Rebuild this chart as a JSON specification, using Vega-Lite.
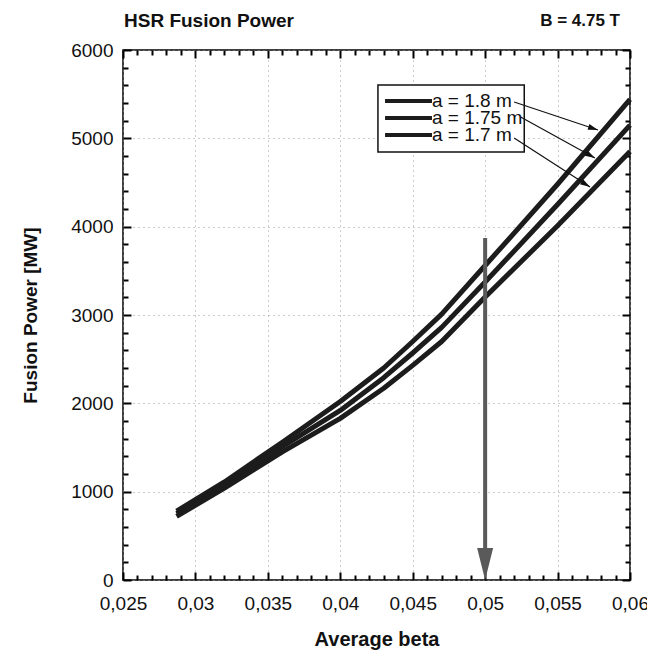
{
  "$schema": "https://vega.github.io/schema/vega-lite/v6.json",
  "width": 507,
  "height": 530,
  "autosize": {"type": "none"},
  "padding": {"left": 123, "top": 50, "right": 17, "bottom": 73},
  "background": "white",
  "config": {"font": "Liberation Sans", "view": {"stroke": "black", "strokeWidth": 1.5}},
  "datasets": {
    "curves": [
      {"beta": 0.0287, "power": 780, "a": "a = 1.8 m"},
      {"beta": 0.032, "power": 1110, "a": "a = 1.8 m"},
      {"beta": 0.036, "power": 1560, "a": "a = 1.8 m"},
      {"beta": 0.04, "power": 2020, "a": "a = 1.8 m"},
      {"beta": 0.043, "power": 2400, "a": "a = 1.8 m"},
      {"beta": 0.045, "power": 2700, "a": "a = 1.8 m"},
      {"beta": 0.047, "power": 3010, "a": "a = 1.8 m"},
      {"beta": 0.05, "power": 3560, "a": "a = 1.8 m"},
      {"beta": 0.055, "power": 4480, "a": "a = 1.8 m"},
      {"beta": 0.06, "power": 5440, "a": "a = 1.8 m"},
      {"beta": 0.0287, "power": 750, "a": "a = 1.75 m"},
      {"beta": 0.032, "power": 1070, "a": "a = 1.75 m"},
      {"beta": 0.036, "power": 1510, "a": "a = 1.75 m"},
      {"beta": 0.04, "power": 1920, "a": "a = 1.75 m"},
      {"beta": 0.043, "power": 2290, "a": "a = 1.75 m"},
      {"beta": 0.045, "power": 2570, "a": "a = 1.75 m"},
      {"beta": 0.047, "power": 2860, "a": "a = 1.75 m"},
      {"beta": 0.05, "power": 3374, "a": "a = 1.75 m"},
      {"beta": 0.055, "power": 4250, "a": "a = 1.75 m"},
      {"beta": 0.06, "power": 5150, "a": "a = 1.75 m"},
      {"beta": 0.0287, "power": 720, "a": "a = 1.7 m"},
      {"beta": 0.032, "power": 1040, "a": "a = 1.7 m"},
      {"beta": 0.036, "power": 1450, "a": "a = 1.7 m"},
      {"beta": 0.04, "power": 1830, "a": "a = 1.7 m"},
      {"beta": 0.043, "power": 2170, "a": "a = 1.7 m"},
      {"beta": 0.045, "power": 2430, "a": "a = 1.7 m"},
      {"beta": 0.047, "power": 2700, "a": "a = 1.7 m"},
      {"beta": 0.05, "power": 3204, "a": "a = 1.7 m"},
      {"beta": 0.055, "power": 4010, "a": "a = 1.7 m"},
      {"beta": 0.06, "power": 4850, "a": "a = 1.7 m"}
    ],
    "legend": [
      {"a": "a = 1.8 m", "x1": 0.04309, "x2": 0.04633, "y": 5423, "ax": 0.05200, "ay": 5411, "bx": 0.05779, "by": 5094},
      {"a": "a = 1.75 m", "x1": 0.04309, "x2": 0.04633, "y": 5230, "ax": 0.05245, "ay": 5242, "bx": 0.05758, "by": 4777},
      {"a": "a = 1.7 m", "x1": 0.04309, "x2": 0.04633, "y": 5038, "ax": 0.05200, "ay": 5004, "bx": 0.05724, "by": 4449}
    ],
    "box": [{"x1": 0.0426, "x2": 0.0527, "y1": 5604, "y2": 4845}],
    "marker": [{"beta": 0.05, "top": 3872, "bottom": 362, "head": 181}],
    "note": [
      {"beta": 0.06, "power": 6000, "label": "B = 4.75 T"},
      {"beta": 0.025, "power": 6000, "label": "HSR Fusion Power"}
    ]
  },
  "resolve": {"axis": {"x": "independent", "y": "independent"}},
  "layer": [
    {
      "data": {"name": "curves"},
      "mark": {"type": "line", "strokeWidth": 5, "color": "#1c1c1c", "strokeJoin": "round", "strokeCap": "butt"},
      "encoding": {
        "x": {"field": "beta", "type": "quantitative", "scale": {"domain": [0.025, 0.06], "nice": false, "zero": false},
          "axis": {"orient": "bottom", "title": "Average beta", "titleFontSize": 20, "titleFontWeight": "bold", "titleColor": "#111", "titlePadding": 13,
            "values": [0.025,0.026,0.027,0.028,0.029,0.03,0.031,0.032,0.033,0.034,0.035,0.036,0.037,0.038,0.039,0.04,0.041,0.042,0.043,0.044,0.045,0.046,0.047,0.048,0.049,0.05,0.051,0.052,0.053,0.054,0.055,0.056,0.057,0.058,0.059,0.06],
            "labelExpr": "abs(datum.value*200-round(datum.value*200))<0.001 ? replace(format(datum.value,'~g'),'.',',') : ''",
            "labelFontSize": 19, "labelColor": "#111", "labelOverlap": false, "labelFlush": false, "labelPadding": 22,
            "tickSize": {"condition": {"test": "abs(datum.value*200-round(datum.value*200))<0.001", "value": -8}, "value": -5},
            "tickColor": "black", "tickWidth": 2, "domain": false,
            "grid": true, "gridDash": [1, 4], "gridColor": "#999", "gridWidth": 1,
            "gridOpacity": {"condition": {"test": "abs(datum.value*200-round(datum.value*200))<0.001", "value": 1}, "value": 0}}},
        "y": {"field": "power", "type": "quantitative", "scale": {"domain": [0, 6000], "nice": false},
          "axis": {"orient": "left", "title": "Fusion Power [MW]", "titleFontSize": 19, "titleFontWeight": "bold", "titleColor": "#111", "titlePadding": 30,
            "values": [0,200,400,600,800,1000,1200,1400,1600,1800,2000,2200,2400,2600,2800,3000,3200,3400,3600,3800,4000,4200,4400,4600,4800,5000,5200,5400,5600,5800,6000],
            "labelExpr": "datum.value % 1000 === 0 ? format(datum.value,'d') : ''",
            "labelFontSize": 19, "labelColor": "#111", "labelOverlap": false, "labelFlush": false, "labelPadding": 18,
            "tickSize": {"condition": {"test": "datum.value % 1000 === 0", "value": -8}, "value": -5},
            "tickColor": "black", "tickWidth": 2, "domain": false,
            "grid": true, "gridDash": [1, 4], "gridColor": "#999", "gridWidth": 1,
            "gridOpacity": {"condition": {"test": "datum.value % 1000 === 0", "value": 1}, "value": 0}}},
        "detail": {"field": "a", "type": "nominal"}
      }
    },
    {
      "data": {"name": "curves"},
      "mark": {"type": "line", "opacity": 0},
      "encoding": {
        "x": {"field": "beta", "type": "quantitative", "scale": {"domain": [0.025, 0.06], "nice": false, "zero": false},
          "axis": {"orient": "top", "title": null, "labels": false, "grid": false, "domain": false,
            "values": [0.025,0.026,0.027,0.028,0.029,0.03,0.031,0.032,0.033,0.034,0.035,0.036,0.037,0.038,0.039,0.04,0.041,0.042,0.043,0.044,0.045,0.046,0.047,0.048,0.049,0.05,0.051,0.052,0.053,0.054,0.055,0.056,0.057,0.058,0.059,0.06],
            "tickSize": {"condition": {"test": "abs(datum.value*200-round(datum.value*200))<0.001", "value": -8}, "value": -5},
            "tickColor": "black", "tickWidth": 2}},
        "y": {"field": "power", "type": "quantitative", "scale": {"domain": [0, 6000], "nice": false},
          "axis": {"orient": "right", "title": null, "labels": false, "grid": false, "domain": false,
            "values": [0,200,400,600,800,1000,1200,1400,1600,1800,2000,2200,2400,2600,2800,3000,3200,3400,3600,3800,4000,4200,4400,4600,4800,5000,5200,5400,5600,5800,6000],
            "tickSize": {"condition": {"test": "datum.value % 1000 === 0", "value": -8}, "value": -5},
            "tickColor": "black", "tickWidth": 2}},
        "detail": {"field": "a", "type": "nominal"}
      }
    },
    {
      "data": {"name": "marker"},
      "mark": {"type": "rule", "color": "#5a5a5a", "strokeWidth": 4},
      "encoding": {
        "x": {"field": "beta", "type": "quantitative", "scale": {"domain": [0.025, 0.06], "nice": false, "zero": false}, "axis": null},
        "y": {"field": "top", "type": "quantitative", "scale": {"domain": [0, 6000], "nice": false}, "axis": null},
        "y2": {"field": "bottom"}
      }
    },
    {
      "data": {"name": "marker"},
      "mark": {"type": "point", "shape": "M-0.5,-1L0.5,-1L0,1Z", "size": 1024, "filled": true, "color": "#5a5a5a", "opacity": 1},
      "encoding": {
        "x": {"field": "beta", "type": "quantitative", "scale": {"domain": [0.025, 0.06], "nice": false, "zero": false}, "axis": null},
        "y": {"field": "head", "type": "quantitative", "scale": {"domain": [0, 6000], "nice": false}, "axis": null}
      }
    },
    {
      "data": {"name": "box"},
      "mark": {"type": "rect", "color": "#111", "xOffset": 3, "yOffset": 3},
      "encoding": {
        "x": {"field": "x1", "type": "quantitative", "scale": {"domain": [0.025, 0.06], "nice": false, "zero": false}, "axis": null},
        "x2": {"field": "x2"},
        "y": {"field": "y1", "type": "quantitative", "scale": {"domain": [0, 6000], "nice": false}, "axis": null},
        "y2": {"field": "y2"}
      }
    },
    {
      "data": {"name": "box"},
      "mark": {"type": "rect", "fill": "white", "stroke": "#111", "strokeWidth": 1.5},
      "encoding": {
        "x": {"field": "x1", "type": "quantitative", "scale": {"domain": [0.025, 0.06], "nice": false, "zero": false}, "axis": null},
        "x2": {"field": "x2"},
        "y": {"field": "y1", "type": "quantitative", "scale": {"domain": [0, 6000], "nice": false}, "axis": null},
        "y2": {"field": "y2"}
      }
    },
    {
      "data": {"name": "legend"},
      "mark": {"type": "rule", "color": "#1c1c1c", "strokeWidth": 4},
      "encoding": {
        "x": {"field": "x1", "type": "quantitative", "scale": {"domain": [0.025, 0.06], "nice": false, "zero": false}, "axis": null},
        "x2": {"field": "x2"},
        "y": {"field": "y", "type": "quantitative", "scale": {"domain": [0, 6000], "nice": false}, "axis": null}
      }
    },
    {
      "data": {"name": "legend"},
      "mark": {"type": "text", "align": "left", "baseline": "middle", "fontSize": 19, "color": "#111", "dx": 0},
      "encoding": {
        "x": {"field": "x2", "type": "quantitative", "scale": {"domain": [0.025, 0.06], "nice": false, "zero": false}, "axis": null},
        "y": {"field": "y", "type": "quantitative", "scale": {"domain": [0, 6000], "nice": false}, "axis": null},
        "text": {"field": "a"}
      }
    },
    {
      "data": {"name": "legend"},
      "mark": {"type": "rule", "color": "#111", "strokeWidth": 1.2},
      "encoding": {
        "x": {"field": "ax", "type": "quantitative", "scale": {"domain": [0.025, 0.06], "nice": false, "zero": false}, "axis": null},
        "x2": {"field": "bx"},
        "y": {"field": "ay", "type": "quantitative", "scale": {"domain": [0, 6000], "nice": false}, "axis": null},
        "y2": {"field": "by"}
      }
    },
    {
      "data": {"name": "legend"},
      "transform": [{"filter": "datum.a === 'a = 1.8 m'"}],
      "mark": {"type": "point", "shape": "M0,0L0.6,2L-0.6,2Z", "size": 100, "filled": true, "color": "#111", "opacity": 1, "angle": 108},
      "encoding": {
        "x": {"field": "bx", "type": "quantitative", "scale": {"domain": [0.025, 0.06], "nice": false, "zero": false}, "axis": null},
        "y": {"field": "by", "type": "quantitative", "scale": {"domain": [0, 6000], "nice": false}, "axis": null}
      }
    },
    {
      "data": {"name": "legend"},
      "transform": [{"filter": "datum.a === 'a = 1.75 m'"}],
      "mark": {"type": "point", "shape": "M0,0L0.6,2L-0.6,2Z", "size": 100, "filled": true, "color": "#111", "opacity": 1, "angle": 119},
      "encoding": {
        "x": {"field": "bx", "type": "quantitative", "scale": {"domain": [0.025, 0.06], "nice": false, "zero": false}, "axis": null},
        "y": {"field": "by", "type": "quantitative", "scale": {"domain": [0, 6000], "nice": false}, "axis": null}
      }
    },
    {
      "data": {"name": "legend"},
      "transform": [{"filter": "datum.a === 'a = 1.7 m'"}],
      "mark": {"type": "point", "shape": "M0,0L0.6,2L-0.6,2Z", "size": 100, "filled": true, "color": "#111", "opacity": 1, "angle": 122},
      "encoding": {
        "x": {"field": "bx", "type": "quantitative", "scale": {"domain": [0.025, 0.06], "nice": false, "zero": false}, "axis": null},
        "y": {"field": "by", "type": "quantitative", "scale": {"domain": [0, 6000], "nice": false}, "axis": null}
      }
    },
    {
      "data": {"name": "note"},
      "transform": [{"filter": "datum.label === 'B = 4.75 T'"}],
      "mark": {"type": "text", "align": "right", "baseline": "alphabetic", "fontSize": 17, "fontWeight": "bold", "color": "#111", "dx": -10, "dy": -24},
      "encoding": {
        "x": {"field": "beta", "type": "quantitative", "scale": {"domain": [0.025, 0.06], "nice": false, "zero": false}, "axis": null},
        "y": {"field": "power", "type": "quantitative", "scale": {"domain": [0, 6000], "nice": false}, "axis": null},
        "text": {"field": "label"}
      }
    },
    {
      "data": {"name": "note"},
      "transform": [{"filter": "datum.label === 'HSR Fusion Power'"}],
      "mark": {"type": "text", "align": "left", "baseline": "alphabetic", "fontSize": 19, "fontWeight": "bold", "color": "#111", "dx": 1, "dy": -23},
      "encoding": {
        "x": {"field": "beta", "type": "quantitative", "scale": {"domain": [0.025, 0.06], "nice": false, "zero": false}, "axis": null},
        "y": {"field": "power", "type": "quantitative", "scale": {"domain": [0, 6000], "nice": false}, "axis": null},
        "text": {"field": "label"}
      }
    }
  ]
}
